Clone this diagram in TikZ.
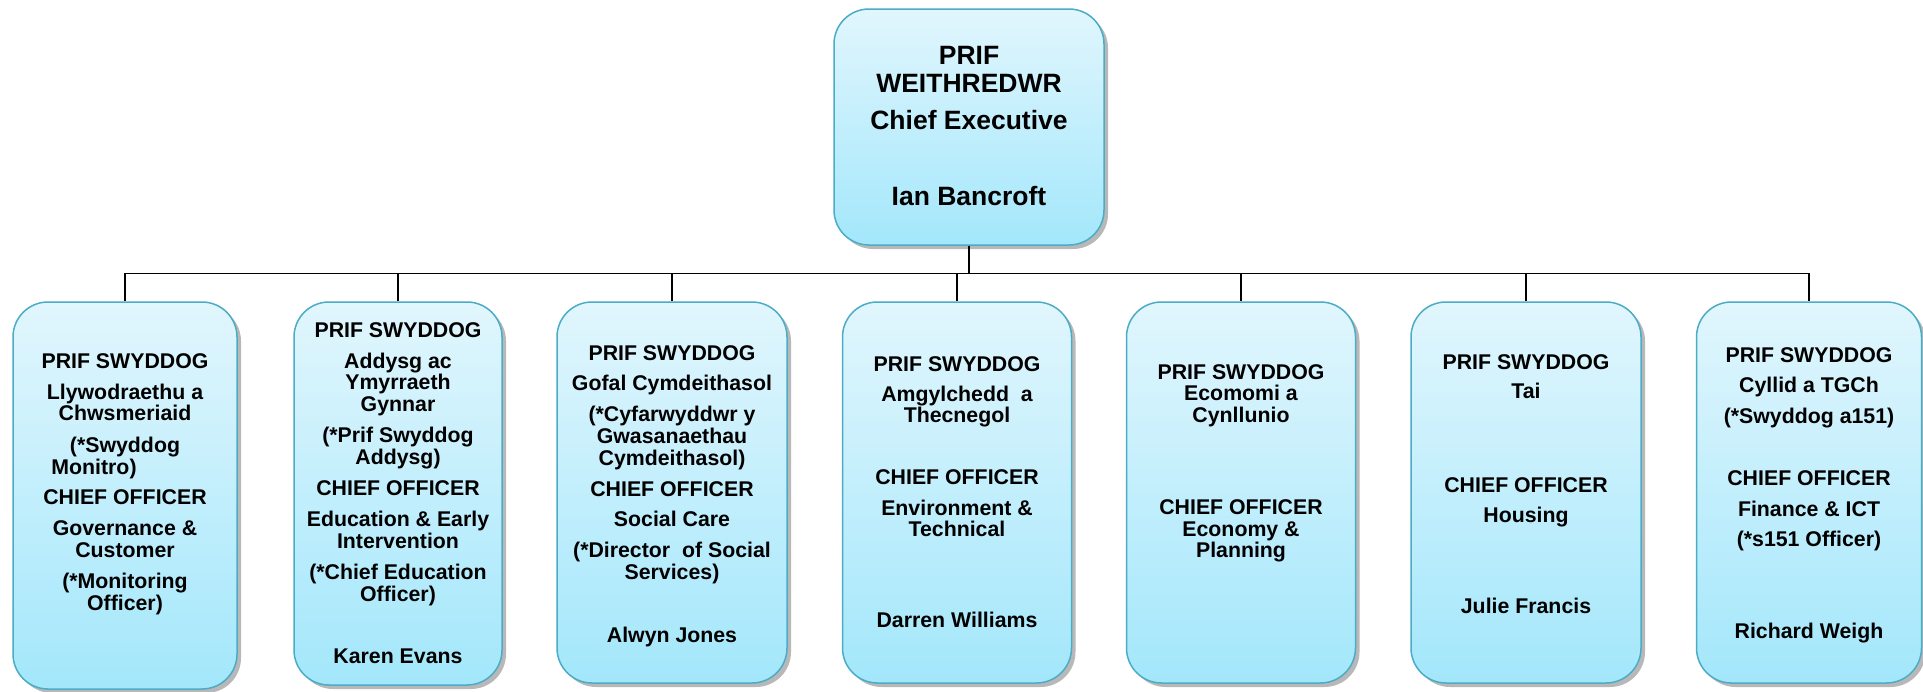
\documentclass[tikz,border=0pt]{standalone}
\usepackage{fontspec}
\setmainfont{Liberation Sans}
\usetikzlibrary{shadows}
\definecolor{boxtop}{HTML}{E1F6FD}
\definecolor{boxbot}{HTML}{A3E7FB}
\definecolor{boxline}{HTML}{4BACC6}
\newcommand\ctext[2]{\vtop{\baselineskip=#1pt\lineskiplimit=-100pt\lineskip=0pt\halign{\hfil##\hfil\cr#2\crcr}}}
\newcommand\gp[1]{\noalign{\vskip#1pt}}
\begin{document}
\begin{tikzpicture}[x=1pt,y=1pt,
  orgbox/.style={rounded corners=35pt, draw=boxline, line width=1.5pt,
    top color=boxtop, bottom color=boxbot, inner sep=0pt,
    drop shadow={shadow xshift=4pt, shadow yshift=-4pt, fill=black, opacity=0.28}},
  txt/.style={anchor=base, inner sep=0pt, font=\bfseries\fontsize{21.3}{21.7}\selectfont},
  ttxt/.style={anchor=base, inner sep=0pt, font=\bfseries\fontsize{26.5}{28}\selectfont},
  conn/.style={draw=black, line width=1.3pt}]
\fill[white] (0,0) rectangle (1923,-691);
\useasboundingbox (0,0) rectangle (1923,-691);

% top box
\node[orgbox, minimum width=270pt, minimum height=236pt] (ceo) at (969,-127) {};
\node[ttxt] (tc) at (969,-64) {\ctext{28}{PRIF\cr WEITHREDWR\cr\gp{9}Chief Executive\cr\gp{48}Ian Bancroft}};

% bottom boxes
\node[orgbox, minimum width=224pt, minimum height=387pt] (b1) at (125,-495.5) {};
\node[orgbox, minimum width=208pt, minimum height=383pt] (b2) at (398,-493.5) {};
\node[orgbox, minimum width=230pt, minimum height=381pt] (b3) at (672,-492.5) {};
\node[orgbox, minimum width=229pt, minimum height=381pt] (b4) at (957,-492.5) {};
\node[orgbox, minimum width=229pt, minimum height=381pt] (b5) at (1241,-492.5) {};
\node[orgbox, minimum width=230pt, minimum height=381pt] (b6) at (1526,-492.5) {};
\node[orgbox, minimum width=225pt, minimum height=381pt] (b7) at (1809,-492.5) {};

% connectors
\coordinate (bus) at (969,-273.5);
\foreach \i in {1,...,7} \draw[conn] (ceo.south) -- (bus) -| (b\i.north);

% texts
\node[txt] (t1) at (125,-368) {\ctext{21.7}{PRIF SWYDDOG\cr\gp{9.5}Llywodraethu a\cr Chwsmeriaid\cr\gp{10}(*Swyddog\cr Monitro)\kern62pt\cr\gp{8.5}CHIEF OFFICER\cr\gp{9.5}Governance \&\cr Customer\cr\gp{9.5}(*Monitoring\cr Officer)}};

\node[txt] (t2) at (398,-337) {\ctext{21.7}{PRIF SWYDDOG\cr\gp{9.5}Addysg ac\cr Ymyrraeth\cr Gynnar\cr\gp{9.5}(*Prif Swyddog\cr Addysg)\cr\gp{9}CHIEF OFFICER\cr\gp{9.5}Education \& Early\cr Intervention\cr\gp{9.5}(*Chief Education\cr Officer)\cr\gp{40.3}Karen Evans}};

\node[txt] (t3) at (672,-360) {\ctext{21.7}{PRIF SWYDDOG\cr\gp{8.5}Gofal Cymdeithasol\cr\gp{10}(*Cyfarwyddwr y\cr Gwasanaethau\cr Cymdeithasol)\cr\gp{9.5}CHIEF OFFICER\cr\gp{8.5}Social Care\cr\gp{9.5}(*Director~ of Social\cr Services)\cr\gp{41}Alwyn Jones}};

\node[txt] (t4) at (957,-371) {\ctext{21.7}{PRIF SWYDDOG\cr\gp{8.5}Amgylchedd~ a\cr Thecnegol\cr\gp{40.3}CHIEF OFFICER\cr\gp{8.5}Environment \&\cr Technical\cr\gp{69.3}Darren Williams}};

\node[txt] (t5) at (1241,-379) {\ctext{21.7}{PRIF SWYDDOG\cr Ecomomi a\cr Cynllunio\cr\gp{70.3}CHIEF OFFICER\cr Economy \&\cr Planning}};

\node[txt] (t6) at (1526,-369) {\ctext{21.7}{PRIF SWYDDOG\cr\gp{7.5}Tai\cr\gp{72.3}CHIEF OFFICER\cr\gp{8.5}Housing\cr\gp{69.3}Julie Francis}};

\node[txt] (t7) at (1809,-362) {\ctext{21.7}{PRIF SWYDDOG\cr\gp{8.5}Cyllid a TGCh\cr\gp{9.5}(*Swyddog a151)\cr\gp{40.3}CHIEF OFFICER\cr\gp{9.5}Finance \& ICT\cr\gp{8.5}(*s151 Officer)\cr\gp{70.3}Richard Weigh}};
\end{tikzpicture}
\end{document}
